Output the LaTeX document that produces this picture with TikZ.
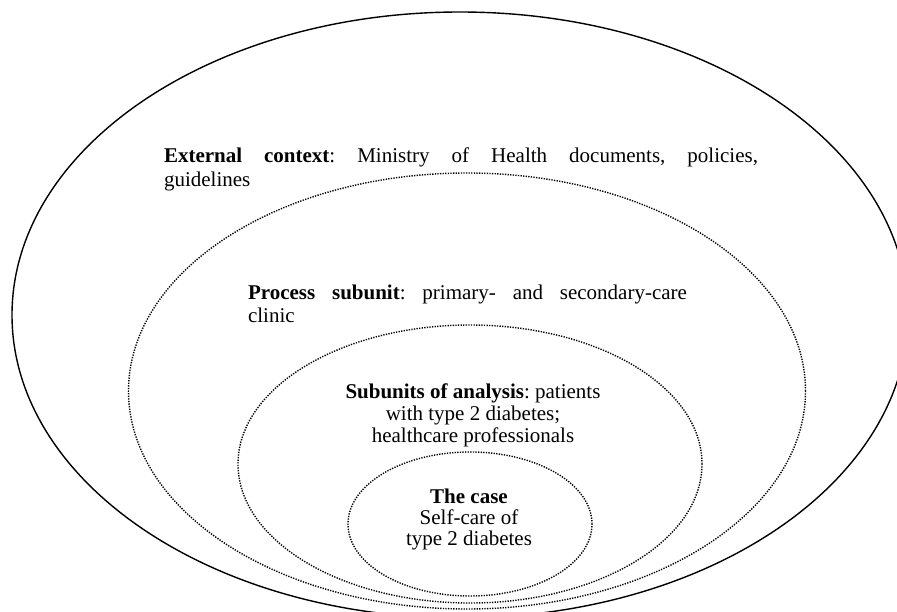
\documentclass[tikz,border=0pt]{standalone}
\usepackage{fontspec}
\setmainfont{Liberation Serif}
\usetikzlibrary{shapes.geometric}
\frenchspacing
\begin{document}
\begin{tikzpicture}[x=1pt,y=-1pt,
  ring/.style={ellipse, draw, inner sep=0pt, outer sep=0pt},
  solidring/.style={ring, line width=1.4pt},
  dotring/.style={ring, line width=1.4pt, dash pattern=on 1.3pt off 1.3pt},
  lbl/.style={inner sep=0pt, outer sep=0pt}]
\useasboundingbox (0,0) rectangle (897,612);
\clip (0,0) rectangle (897,612);
% rings
\node[solidring, minimum width=896pt, minimum height=606pt] (ext) at (460,315) {};
\node[dotring, minimum width=677pt, minimum height=436pt] (proc) at (467,391) {};
\node[dotring, minimum width=464pt, minimum height=278pt] (sub) at (470,464) {};
\node[dotring, minimum width=244pt, minimum height=144pt] (case) at (470,524) {};
% texts
\node[lbl, anchor=base west, text width=594pt, align=justify,
      font=\fontsize{21}{24}\selectfont] (exttxt) at (164,163)
  {\textbf{External context}: Ministry of Health documents, policies,\linebreak guidelines};
\node[lbl, anchor=base west, text width=439pt, align=justify,
      font=\fontsize{21}{22.5}\selectfont] (proctxt) at (248,300)
  {\textbf{Process subunit}: primary- and secondary-care\linebreak clinic};
\node[lbl, anchor=base, align=center,
      font=\fontsize{21}{22}\selectfont] (subtxt) at (473,442)
  {\textbf{Subunits of analysis}: patients\\with type 2 diabetes;\\healthcare professionals};
\node[lbl, anchor=base, align=center,
      font=\fontsize{21}{21}\selectfont] (casetxt) at (469,545)
  {\textbf{The case}\\Self-care of\\type 2 diabetes};
\end{tikzpicture}
\end{document}
